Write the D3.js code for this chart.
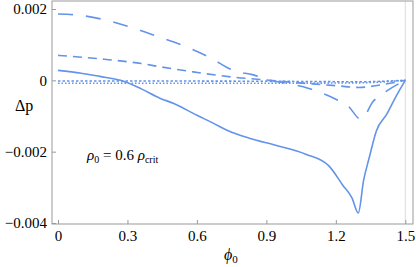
<!DOCTYPE html>
<html>
<head>
<meta charset="utf-8">
<script src="https://cdn.jsdelivr.net/npm/d3@7"></script>
<style>
	body { margin: 0; background: #fff; }
	svg { display: block; }
	.tick line { stroke: #999; }
</style>
</head>
<body>
<svg id="plot" width="416" height="267"></svg>
<script>

// solid curve
const PHI_SOLID = [0, 0.1, 0.18, 0.27, 0.36, 0.44, 0.5, 0.6, 0.67, 0.73, 0.83, 0.94, 1.07, 1.17, 1.23, 1.27, 1.297, 1.32, 1.345, 1.375, 1.42, 1.46, 1.5];
const DP_SOLID = [0.00028, 0.0002, 0.00011, 0, -0.00024, -0.0005, -0.00065, -0.00098, -0.0012, -0.0014, -0.00163, -0.00182, -0.00207, -0.0024, -0.00294, -0.0033, -0.00372, -0.0028, -0.00215, -0.00142, -0.00095, -0.00045, 0];

// long dashes
const PHI_LONG = [0, 0.07, 0.2, 0.32, 0.43, 0.55, 0.67, 0.73, 0.77, 0.84, 0.9, 1.0, 1.08, 1.14, 1.2, 1.25, 1.31, 1.36, 1.41, 1.5];
const DP_LONG = [0.00186, 0.00184, 0.0017, 0.00148, 0.00123, 0.00095, 0.00059, 0.00036, 0.00025, 0.00016, 0.00003, -0.0001, -0.00022, -0.00036, -0.00053, -0.0007, -0.0011, -0.0006, -0.00034, 0];

// medium dashes
const PHI_MED = [0, 0.2, 0.36, 0.45, 0.57, 0.69, 0.77, 0.9, 1.0, 1.1, 1.2, 1.3, 1.4, 1.5];
const DP_MED = [0.0007, 0.00059, 0.00047, 0.00037, 0.00025, 0.00014, 0.00008, 0.00001, -0.00005, -0.0001, -0.00015, -0.0002, -0.00012, 0];

// the two dotted ones near zero
const PHI_DOT = [0, 0.5, 1.0, 1.3, 1.5];
const DP_DOT1 = [-0.00002, -0.00002, -0.00003, -0.00004, 0];
const DP_DOT2 = [-0.00008, -0.00008, -0.00008, -0.00007, 0];

const X_TICKS = [0, 0.3, 0.6, 0.9, 1.2, 1.5];
const Y_TICKS = [-0.004, -0.002, 0, 0.002];

const COLOR = "#6393ea";
const SERIF = "'Liberation Serif', 'Times New Roman', 'DejaVu Serif', serif";

function zip(xs, ys) {
	return xs.map((x, i) => ({ x: x, y: ys[i] }));
}

function draw() {
	var svg = d3.select("#plot");
	var left = 52, right = 413, top = 1, bottom = 224;

	var x = d3.scaleLinear().domain([0, 1.5]).range([58, 405.3]);
	var y = d3.scaleLinear().domain([-0.004, 0.002]).range([223, 9]);

	// light line at phi = 1.5
	svg.append("line")
		.attr("x1", x(1.5)).attr("x2", x(1.5))
		.attr("y1", top).attr("y2", bottom)
		.attr("stroke", "#ddd").attr("stroke-width", 1);

	var fmt = (d) => d === 0 ? "0" : d3.format(".3f")(d);

	var xAxis = svg.append("g")
		.attr("transform", `translate(0, ${bottom})`)
		.call(d3.axisBottom(x).tickValues(X_TICKS).tickFormat((d) => d === 0 ? "0" : d3.format(".1f")(d))
			.tickSizeInner(-4).tickSizeOuter(0).tickPadding(6));
	xAxis.select(".domain").remove();

	var yAxis = svg.append("g")
		.attr("transform", `translate(${left}, 0)`)
		.call(d3.axisLeft(y).tickValues(Y_TICKS).tickFormat(fmt)
			.tickSizeInner(-4).tickSizeOuter(0).tickPadding(5));
	yAxis.select(".domain").remove();

	svg.selectAll(".tick text")
		.attr("font-family", SERIF)
		.attr("font-size", 15)
		.style("font-family", SERIF)
		.attr("fill", "#000");

	// frame
	svg.append("rect")
		.attr("x", left).attr("y", top)
		.attr("width", right - left).attr("height", bottom - top)
		.attr("fill", "none").attr("stroke", "#999").attr("stroke-width", 1);

	var line = d3.line()
		.x((d) => x(d.x))
		.y((d) => y(d.y))
		.curve(d3.curveMonotoneX);

	var series = [
		{ data: zip(PHI_DOT, DP_DOT2), dash: "1.5,2" },
		{ data: zip(PHI_DOT, DP_DOT1), dash: "2.5,2" },
		{ data: zip(PHI_MED, DP_MED), dash: "9,6" },
		{ data: zip(PHI_LONG, DP_LONG), dash: "15,13" },
		{ data: zip(PHI_SOLID, DP_SOLID), dash: null }
	];

	svg.append("g")
		.selectAll("path")
		.data(series)
		.enter()
		.append("path")
			.attr("d", (s) => line(s.data))
			.attr("fill", "none")
			.attr("stroke", COLOR)
			.attr("stroke-width", 1.6)
			.attr("stroke-dasharray", (s) => s.dash);

	// axis labels
	var dp = svg.append("text")
		.style("font-family", SERIF)
		.attr("x", 15).attr("y", 111).attr("font-size", 16);
	dp.text("Δp");

	var phi = svg.append("text")
		.style("font-family", SERIF)
		.attr("x", 224).attr("y", 260).attr("font-size", 16);
	phi.append("tspan").attr("font-style", "italic").text("ϕ");
	phi.append("tspan").attr("font-size", 11).attr("dy", 3).text("0");

	var ann = svg.append("text")
		.style("font-family", SERIF)
		.attr("x", 87).attr("y", 160).attr("font-size", 15);
	ann.append("tspan").attr("font-style", "italic").text("ρ");
	ann.append("tspan").attr("font-size", 10).attr("dy", 3).text("0");
	ann.append("tspan").attr("dy", -3).text(" = 0.6 ");
	ann.append("tspan").attr("font-style", "italic").text("ρ");
	ann.append("tspan").attr("font-size", 10).attr("dy", 3).text("crit");
}

draw();
</script>
</body>
</html>
